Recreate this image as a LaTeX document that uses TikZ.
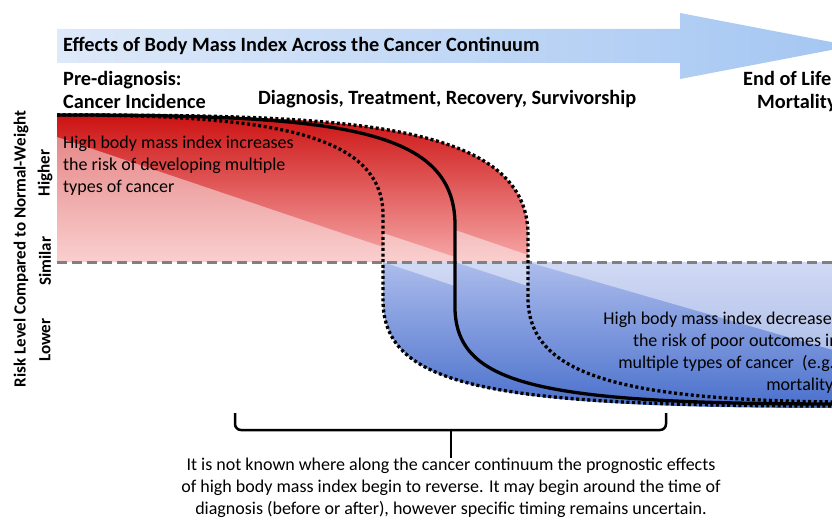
\documentclass[tikz,border=0pt]{standalone}
\usepackage{fontspec}
\setmainfont{Carlito}
\definecolor{arrowL}{RGB}{222,233,249}
\definecolor{arrowR}{RGB}{164,198,242}
\definecolor{redtop}{RGB}{204,18,18}
\definecolor{redbot}{RGB}{247,168,168}
\definecolor{bluetop}{RGB}{172,188,236}
\definecolor{bluebot}{RGB}{74,112,204}
\definecolor{midgray}{RGB}{128,128,128}

\begin{document}
\begin{tikzpicture}
  [x=1pt,y=-1pt,every node/.style={inner sep=0pt},
   head/.style={font=\bfseries\fontsize{20.3}{24}\selectfont,anchor=base west},
   lvl/.style={font=\bfseries\fontsize{17}{20}\selectfont,rotate=90},
   body/.style={font=\fontsize{18}{22}\selectfont},
   dots/.style={line width=3.3pt,dash pattern=on 3pt off 2.6pt},
   shine/.style={fill=white,opacity=0.45}]
  \useasboundingbox (0,0) rectangle (832,519);
  \clip (0,0) rectangle (832,519);

  \shade[left color=arrowL,right color=arrowR] (57,29) -- (680,29) -- (680,13) -- (852,46) -- (680,79) -- (680,63) -- (57,63) -- cycle;
  \node[head] (title) at (63,52) {Effects of Body Mass Index Across the Cancer Continuum};
  \node[head] (pre) at (63,85) {Pre-diagnosis:};
  \node[head] (inc) at (63,108) {Cancer Incidence};
  \node[head] (dx) at (258,104) {Diagnosis, Treatment, Recovery, Survivorship};
  \node[head] (eol) at (743,85) {End of Life};
  \node[head] (mort) at (757,108) {Mortality};

  \shade[top color=redtop,bottom color=redbot] (57,262) -- (57,115) .. controls (330,115) and (528,118) .. (528,235) -- (528,262) -- cycle;
  \shade[top color=bluetop,bottom color=bluebot] (383,262) -- (383,300) .. controls (383,390) and (500,408) .. (840,408) -- (840,262) -- cycle;

  \fill[shine] (57,137) -- (383,247) -- (383,262) -- (57,262) -- cycle;
  \fill[shine] (383,233) -- (455,257) -- (455,262) -- (383,262) -- cycle;
  \fill[shine] (455,230) -- (528,255) -- (528,262) -- (455,262) -- cycle;
  \fill[shine] (383,262) -- (455,262) -- (455,286) -- cycle;
  \fill[shine] (455,262) -- (528,262) -- (528,286) -- cycle;
  \fill[shine] (528,262) -- (840,262) -- (840,352) -- cycle;

  \draw[midgray,line width=3pt,dash pattern=on 10pt off 5pt] (57,262) -- (832,262);

  \draw[dots] (57,115) .. controls (260,115) and (383,130) .. (383,215) -- (383,300) .. controls (383,390) and (500,406) .. (840,406);
  \draw[line width=3.3pt] (57,115) .. controls (330,115) and (455,125) .. (455,225) -- (455,310) .. controls (458,385) and (540,404) .. (840,404);
  \draw[dots] (57,115) .. controls (330,115) and (528,118) .. (528,235) -- (528,300) .. controls (530,375) and (620,400) .. (840,402);

  \node[body,anchor=base west,align=left] (up) at (63,192) {High body mass index increases\\the risk of developing multiple\\types of cancer};
  \node[body,anchor=base east,align=right] (down) at (839,390) {High body mass index decreases\\the risk of poor outcomes in\\multiple types of cancer~ (e.g.,\\mortality)};

  \node[lvl] (risk) at (21,249) {Risk Level Compared to Normal-Weight};
  \foreach \n/\y/\t in {hi/173/Higher,sim/261/Similar,lo/340/Lower}
    \node[lvl] (\n) at (45,\y) {\t};

  \coordinate (bl) at (235,413);
  \coordinate (br) at (666,413);
  \coordinate (bm) at (451,430);
  \node[anchor=north,align=center,font=\fontsize{18}{22}\selectfont] (note) at (451,458) {It is not known where along the cancer continuum the prognostic effects\\of high body mass index begin to reverse. It may begin around the time of\\diagnosis (before or after), however specific timing remains uncertain.};
  \draw[line width=2.5pt,rounded corners=6pt] (bl) -- (235,430) -- (666,430) -- (br);
  \draw[line width=2.5pt] (bm) -- (note.north);
\end{tikzpicture}
\end{document}
